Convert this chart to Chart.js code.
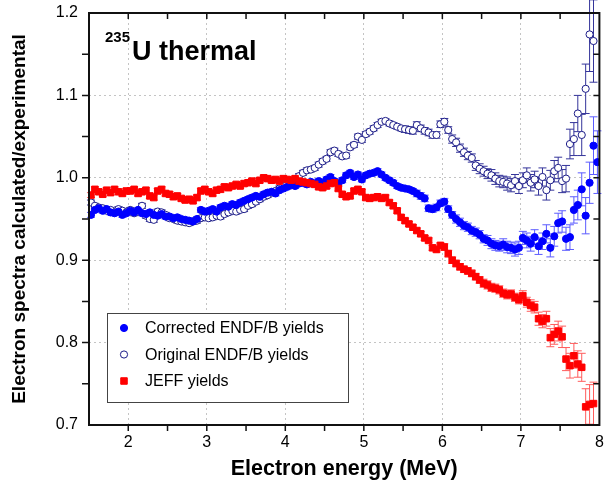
<!DOCTYPE html>
<html>
<head>
<meta charset="utf-8">
<script src="https://cdn.jsdelivr.net/npm/chart.js@4"></script>
<style>
html,body{margin:0;padding:0;background:#fff}
</style>
</head>
<body>
<canvas id="c" width="605" height="496"></canvas>
<script>
// electron energy bins (MeV)
const energy = [
  1.525,1.575,1.625,1.675,1.725,1.775,1.825,1.875,1.925,1.975,
  2.025,2.075,2.125,2.175,2.225,2.275,2.325,2.375,2.425,2.475,
  2.525,2.575,2.625,2.675,2.725,2.775,2.825,2.875,2.925,2.975,
  3.025,3.075,3.125,3.175,3.225,3.275,3.325,3.375,3.425,3.475,
  3.525,3.575,3.625,3.675,3.725,3.775,3.825,3.875,3.925,3.975,
  4.025,4.075,4.125,4.175,4.225,4.275,4.325,4.375,4.425,4.475,
  4.525,4.575,4.625,4.675,4.725,4.775,4.825,4.875,4.925,4.975,
  5.025,5.075,5.125,5.175,5.225,5.275,5.325,5.375,5.425,5.475,
  5.525,5.575,5.625,5.675,5.725,5.775,5.825,5.875,5.925,5.975,
  6.025,6.075,6.125,6.175,6.225,6.275,6.325,6.375,6.425,6.475,
  6.525,6.575,6.625,6.675,6.725,6.775,6.825,6.875,6.925,6.975,
  7.025,7.075,7.125,7.175,7.225,7.275,7.325,7.375,7.425,7.475,
  7.525,7.575,7.625,7.675,7.725,7.775,7.825,7.875,7.925,7.975
]

const corrected = [
  0.955,0.961,0.963,0.960,0.962,0.958,0.957,0.959,0.955,0.957,
  0.960,0.958,0.961,0.957,0.956,0.958,0.955,0.954,0.956,0.953,
  0.953,0.951,0.952,0.950,0.949,0.948,0.947,0.950,0.961,0.959,
  0.960,0.962,0.959,0.964,0.966,0.965,0.968,0.967,0.970,0.972,
  0.974,0.976,0.978,0.977,0.980,0.982,0.983,0.981,0.985,0.987,
  0.989,0.991,0.990,0.993,0.994,0.992,0.995,0.993,0.996,0.994,
  0.998,1.001,0.996,0.993,0.997,1.003,1.006,1.001,1.004,0.998,
  1.003,1.005,1.006,1.008,1.004,1.000,0.997,0.994,0.990,0.988,
  0.987,0.986,0.984,0.981,0.978,0.975,0.963,0.962,0.964,0.969,
  0.971,0.962,0.955,0.950,0.946,0.942,0.940,0.936,0.934,0.931,
  0.926,0.924,0.920,0.918,0.917,0.919,0.916,0.915,0.913,0.915,
  0.927,0.924,0.920,0.928,0.917,0.923,0.932,0.915,0.929,0.945,
  0.947,0.926,0.928,0.961,0.967,0.986,0.954,0.994,1.039,1.019
]
const correctedErr = [
  0.003,0.003,0.003,0.003,0.003,0.003,0.003,0.003,0.003,0.003,
  0.003,0.003,0.003,0.003,0.003,0.003,0.003,0.003,0.003,0.003,
  0.003,0.003,0.003,0.003,0.003,0.003,0.003,0.003,0.003,0.003,
  0.003,0.003,0.003,0.003,0.003,0.003,0.003,0.003,0.003,0.003,
  0.003,0.003,0.003,0.003,0.003,0.003,0.003,0.003,0.003,0.003,
  0.003,0.003,0.003,0.003,0.003,0.003,0.003,0.003,0.003,0.003,
  0.003,0.003,0.003,0.003,0.003,0.003,0.003,0.003,0.003,0.003,
  0.003,0.003,0.003,0.003,0.003,0.003,0.003,0.003,0.003,0.003,
  0.003,0.003,0.003,0.004,0.004,0.004,0.004,0.004,0.004,0.004,
  0.004,0.004,0.004,0.005,0.005,0.005,0.005,0.005,0.005,0.005,
  0.005,0.006,0.006,0.006,0.006,0.007,0.007,0.007,0.008,0.008,
  0.008,0.009,0.009,0.009,0.010,0.010,0.011,0.011,0.012,0.012,
  0.013,0.014,0.015,0.016,0.018,0.020,0.022,0.025,0.035,0.038
]

const original = [
  0.970,0.966,0.964,0.963,0.960,0.961,0.958,0.962,0.960,0.958,
  0.961,0.957,0.959,0.966,0.954,0.950,0.949,0.959,0.958,0.955,
  0.951,0.950,0.948,0.947,0.946,0.945,0.947,0.948,0.951,0.952,
  0.951,0.952,0.954,0.953,0.956,0.958,0.960,0.959,0.961,0.962,
  0.966,0.968,0.971,0.974,0.977,0.979,0.982,0.984,0.987,0.990,
  0.993,0.996,0.998,1.002,1.006,1.009,1.010,1.012,1.016,1.020,
  1.023,1.031,1.033,1.029,1.026,1.027,1.037,1.040,1.050,1.046,
  1.053,1.056,1.060,1.064,1.068,1.069,1.066,1.064,1.062,1.060,
  1.059,1.058,1.057,1.064,1.060,1.057,1.055,1.052,1.052,1.065,
  1.068,1.058,1.047,1.043,1.036,1.031,1.027,1.024,1.015,1.011,
  1.008,1.005,1.003,0.999,0.996,0.995,0.993,0.991,0.996,0.990,
  0.997,1.003,0.994,0.998,0.990,1.001,0.985,0.997,1.008,1.012,
  0.996,0.999,1.041,1.047,1.078,1.052,1.108,1.174,1.166,null
]
const originalErr = [
  0.003,0.003,0.003,0.003,0.003,0.003,0.003,0.003,0.003,0.003,
  0.003,0.003,0.003,0.003,0.003,0.003,0.003,0.003,0.003,0.003,
  0.003,0.003,0.003,0.003,0.003,0.003,0.003,0.003,0.003,0.003,
  0.003,0.003,0.003,0.003,0.003,0.003,0.003,0.003,0.003,0.003,
  0.003,0.003,0.003,0.003,0.003,0.003,0.003,0.003,0.003,0.003,
  0.003,0.003,0.003,0.003,0.003,0.003,0.003,0.003,0.003,0.003,
  0.003,0.003,0.003,0.003,0.003,0.003,0.003,0.003,0.003,0.003,
  0.003,0.003,0.003,0.003,0.003,0.003,0.003,0.003,0.003,0.003,
  0.004,0.004,0.004,0.004,0.004,0.004,0.004,0.004,0.004,0.004,
  0.004,0.004,0.005,0.005,0.005,0.005,0.005,0.005,0.006,0.006,
  0.006,0.006,0.007,0.007,0.007,0.007,0.008,0.008,0.008,0.009,
  0.009,0.009,0.010,0.010,0.011,0.011,0.012,0.012,0.013,0.013,
  0.014,0.016,0.018,0.020,0.022,0.025,0.030,0.045,0.050,null
]

const jeff = [
  0.979,0.986,0.983,0.980,0.985,0.982,0.986,0.983,0.981,0.984,
  0.984,0.986,0.981,0.983,0.985,0.978,0.976,0.984,0.986,0.981,
  0.980,0.977,0.978,0.975,0.973,0.974,0.972,0.976,0.984,0.986,
  0.983,0.981,0.985,0.986,0.989,0.988,0.990,0.992,0.990,0.993,
  0.994,0.996,0.993,0.997,1.000,0.999,0.997,0.998,0.996,0.999,
  0.998,0.997,0.999,0.996,0.995,0.994,0.993,0.992,0.989,0.988,
  0.990,0.993,0.994,0.987,0.980,0.977,0.978,0.984,0.986,0.983,
  0.976,0.975,0.976,0.977,0.975,0.976,0.970,0.966,0.960,0.952,
  0.948,0.944,0.940,0.936,0.932,0.927,0.924,0.915,0.913,0.918,
  0.916,0.908,0.900,0.896,0.892,0.889,0.887,0.884,0.880,0.876,
  0.872,0.870,0.867,0.866,0.864,0.860,0.858,0.859,0.855,0.852,
  0.857,0.849,0.845,0.843,0.829,0.826,0.829,0.806,0.810,0.814,
  0.807,0.780,0.772,0.784,0.774,0.770,0.722,0.725,0.726,null
]
const jeffErr = [
  0.003,0.003,0.003,0.003,0.003,0.003,0.003,0.003,0.003,0.003,
  0.003,0.003,0.003,0.003,0.003,0.003,0.003,0.003,0.003,0.003,
  0.003,0.003,0.003,0.003,0.003,0.003,0.003,0.003,0.003,0.003,
  0.003,0.003,0.003,0.003,0.003,0.003,0.003,0.003,0.003,0.003,
  0.003,0.003,0.003,0.003,0.003,0.003,0.003,0.003,0.003,0.003,
  0.003,0.003,0.003,0.003,0.003,0.003,0.003,0.003,0.003,0.003,
  0.003,0.003,0.003,0.003,0.003,0.003,0.003,0.003,0.003,0.003,
  0.003,0.003,0.003,0.003,0.003,0.003,0.003,0.003,0.003,0.003,
  0.003,0.003,0.003,0.003,0.003,0.003,0.003,0.003,0.003,0.003,
  0.004,0.004,0.004,0.004,0.004,0.004,0.004,0.004,0.004,0.004,
  0.005,0.005,0.005,0.005,0.005,0.005,0.005,0.005,0.005,0.005,
  0.006,0.006,0.007,0.007,0.008,0.008,0.009,0.011,0.012,0.012,
  0.013,0.014,0.015,0.015,0.016,0.017,0.022,0.024,0.026,null
]

const seriesLabels = ['Corrected ENDF/B yields', 'Original ENDF/B yields', 'JEFF yields']
const xTicks = [2, 3, 4, 5, 6, 7, 8]
const yTicks = [0.7, 0.8, 0.9, 1.0, 1.1, 1.2]
const xMarks = [2, 2.5, 3, 3.5, 4, 4.5, 5, 5.5, 6, 6.5, 7, 7.5]
const yMarks = [0.75, 0.8, 0.85, 0.9, 0.95, 1.0, 1.05, 1.1, 1.15]

const FONT = "'Liberation Sans', Arial, sans-serif"

function pts(vals){
  return energy.map((x, i) => ({x: x, y: vals[i]}))
}

// vertical error bars with caps, drawn under the markers
const errorBars = {
  id: 'errorBars',
  beforeDatasetsDraw(chart){
    const ctx = chart.ctx
    const ys = chart.scales.y
    chart.data.datasets.forEach((ds, i) => {
      const meta = chart.getDatasetMeta(i)
      ctx.save()
      ctx.strokeStyle = ds.errorColor
      ctx.lineWidth = 1
      ctx.beginPath()
      meta.data.forEach((p, j) => {
        const v = ds.data[j].y, e = ds.errors[j]
        if (v == null || e == null) return
        const x = p.x
        const y1 = ys.getPixelForValue(v - e), y2 = ys.getPixelForValue(v + e)
        ctx.moveTo(x, y1); ctx.lineTo(x, y2)
        ctx.moveTo(x - 4, y1); ctx.lineTo(x + 4, y1)
        ctx.moveTo(x - 4, y2); ctx.lineTo(x + 4, y2)
      })
      ctx.stroke()
      ctx.restore()
    })
  }
}

function marker(ctx, ds, x, y){
  ctx.save()
  ctx.lineWidth = ds.pointBorderWidth || 1
  ctx.fillStyle = ds.pointBackgroundColor
  ctx.strokeStyle = ds.pointBorderColor
  ctx.beginPath()
  if (ds.pointStyle === 'rect'){
    const s = ds.pointRadius * Math.SQRT1_2
    ctx.rect(x - s, y - s, 2 * s, 2 * s)
  } else {
    ctx.arc(x, y, ds.pointRadius, 0, Math.PI * 2)
  }
  ctx.fill()
  ctx.stroke()
  ctx.restore()
}

// frame, tick marks, inset title and legend box
const frame = {
  id: 'frame',
  afterDraw(chart){
    const ctx = chart.ctx
    const a = chart.chartArea
    const xs = chart.scales.x, ys = chart.scales.y
    ctx.save()
    ctx.strokeStyle = '#111'
    ctx.lineWidth = 1.5
    ctx.beginPath()
    xMarks.forEach(v => {
      const px = xs.getPixelForValue(v)
      ctx.moveTo(px, a.bottom); ctx.lineTo(px, a.bottom + 6)
      ctx.moveTo(px, a.top); ctx.lineTo(px, a.top + 6)
    })
    yMarks.forEach(v => {
      const py = ys.getPixelForValue(v)
      ctx.moveTo(a.left, py); ctx.lineTo(a.left - 7, py)
      ctx.moveTo(a.right, py); ctx.lineTo(a.right - 6, py)
    })
    ctx.stroke()
    ctx.lineWidth = 2
    ctx.strokeRect(a.left, a.top, a.right - a.left, a.bottom - a.top)

    // inset title
    ctx.fillStyle = '#000'
    ctx.textBaseline = 'alphabetic'
    ctx.font = 'bold 15px ' + FONT
    ctx.fillText('235', a.left + 16, a.top + 29)
    ctx.font = 'bold 27px ' + FONT
    ctx.fillText('U thermal', a.left + 43, a.top + 47)

    // legend
    const lx = a.left + 18, ly = 313, lw = 241, lh = 89
    ctx.fillStyle = '#fff'
    ctx.fillRect(lx, ly, lw, lh)
    ctx.lineWidth = 1
    ctx.strokeStyle = '#444'
    ctx.strokeRect(lx + 0.5, ly + 0.5, lw, lh)
    ctx.font = '16px ' + FONT
    ctx.textBaseline = 'middle'
    chart.data.datasets.forEach((ds, i) => {
      const yy = ly + 15 + i * 26.5
      marker(ctx, ds, lx + 17, yy)
      ctx.fillStyle = '#000'
      ctx.fillText(ds.label, lx + 38, yy + 1)
    })
    ctx.restore()
  }
}

new Chart(document.getElementById('c'), {
  type: 'scatter',
  data: {
    datasets: [
      {
        label: seriesLabels[0],
        data: pts(corrected),
        errors: correctedErr,
        errorColor: '#5c5cff',
        pointStyle: 'circle',
        pointRadius: 3.6,
        pointBackgroundColor: '#0000ff',
        pointBorderColor: '#0000ff',
        pointBorderWidth: 1,
        order: 2
      },
      {
        label: seriesLabels[1],
        data: pts(original),
        errors: originalErr,
        errorColor: '#34349a',
        pointStyle: 'circle',
        pointRadius: 3.6,
        pointBackgroundColor: '#ffffff',
        pointBorderColor: '#1c1c88',
        pointBorderWidth: 1,
        order: 3
      },
      {
        label: seriesLabels[2],
        data: pts(jeff),
        errors: jeffErr,
        errorColor: '#ff5c5c',
        pointStyle: 'rect',
        pointRadius: 4.6,
        pointBackgroundColor: '#ff0000',
        pointBorderColor: '#ff0000',
        pointBorderWidth: 1,
        order: 1
      }
    ]
  },
  options: {
    responsive: false,
    animation: false,
    events: [],
    layout: {padding: {left: 0, top: 13, right: 4, bottom: 0}},
    plugins: {legend: {display: false}, tooltip: {enabled: false}},
    scales: {
      x: {
        type: 'linear',
        min: 1.5,
        max: 8,
        afterBuildTicks: s => { s.ticks = xTicks.map(v => ({value: v})) },
        afterFit: s => { s.height = 71; s.paddingLeft = 0; s.paddingRight = 0 },
        ticks: {
          color: '#000',
          font: {family: FONT, size: 16},
          padding: 8,
          maxRotation: 0,
          callback: v => String(v)
        },
        grid: {color: '#c4c4c4', lineWidth: 1, drawTicks: false},
        border: {display: false, dash: [2, 3]},
        title: {
          display: true,
          text: 'Electron energy (MeV)',
          color: '#000',
          font: {family: FONT, size: 21.5, weight: 'bold'},
          padding: {top: 14, bottom: 14}
        }
      },
      y: {
        type: 'linear',
        min: 0.7,
        max: 1.2,
        afterBuildTicks: s => { s.ticks = yTicks.map(v => ({value: v})) },
        afterFit: s => { s.width = 89; s.paddingTop = 0; s.paddingBottom = 0 },
        ticks: {
          color: '#000',
          font: {family: FONT, size: 16},
          padding: 11,
          callback: v => v.toFixed(1)
        },
        grid: {color: '#c4c4c4', lineWidth: 1, drawTicks: false},
        border: {display: false, dash: [2, 3]},
        title: {
          display: true,
          text: 'Electron spectra calculated/experimental',
          color: '#000',
          font: {family: FONT, size: 19, weight: 'bold'},
          padding: {top: 8, bottom: 8}
        }
      }
    }
  },
  plugins: [errorBars, frame]
})
</script>
</body>
</html>
